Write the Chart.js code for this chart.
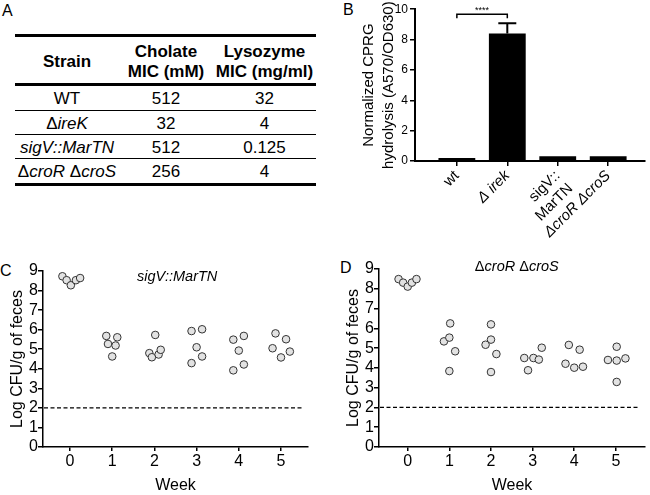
<!DOCTYPE html>
<html>
<head>
<meta charset="utf-8">
<script src="https://cdn.jsdelivr.net/npm/chart.js@4.4.1/dist/chart.umd.min.js"></script>
<style>
  body { margin: 0; background: #fff; }
  #page { position: relative; width: 650px; height: 495px; overflow: hidden; font-family: "Liberation Sans", Arial, sans-serif; color: #000; }
  canvas { position: absolute; }
  .panel { position: absolute; font-size: 16px; line-height: 16px; }
  #tableA { position: absolute; left: 15px; top: 34px; width: 301px; border-top: 3px solid #000; font-size: 17px; }
  #tableA .row { display: flex; box-sizing: content-box; border-bottom: 1px solid #000; }
  #tableA .row.head { height: 46px; border-bottom-width: 3px; font-weight: bold; align-items: center; padding-top: 0; }
  #tableA .row.last { border-bottom-width: 3px; }
  #tableA .cell { text-align: center; }
  #tableA .head .cell { line-height: 20px; padding-top: 3px; }
</style>
</head>
<body>
<div id="page">
  <div class="panel" style="left:2px;top:3px">A</div>
  <div class="panel" style="left:343px;top:2px">B</div>
  <div class="panel" style="left:0px;top:263px">C</div>
  <div class="panel" style="left:340px;top:260px">D</div>
  <div id="tableA"></div>
  <canvas id="chartB" width="320" height="250" style="left:330px;top:0px"></canvas>
  <canvas id="chartC" width="325" height="245" style="left:0px;top:250px"></canvas>
  <canvas id="chartD" width="325" height="245" style="left:325px;top:250px"></canvas>
</div>
<script>
// panel A
const tableStrains = ['WT', 'ΔireK', 'sigV::MarTN', 'ΔcroR ΔcroS'];
const cholateMIC = [512, 32, 512, 256];
const lysozymeMIC = [32, 4, 0.125, 4];

// panel B
const cprgStrains = ['wt', 'Δ irek', ['sigV::', 'MarTN'], 'ΔcroR ΔcroS'];
const cprgValues = [0.19, 8.4, 0.32, 0.32];
const cprgError = [0, 0.68, 0, 0];
const sigPair = [0, 1];
const sigLabel = '****';

// panels C and D
const weeks = [0, 1, 2, 3, 4, 5];
const detectionLimit = 2;
const sigvLogCfu = [
  [8.73, 8.53, 8.27, 8.53, 8.64],
  [5.68, 5.27, 5.61, 5.19, 4.63],
  [5.73, 4.80, 4.59, 4.73, 4.97],
  [5.93, 6.02, 5.10, 4.63, 4.29],
  [5.49, 5.68, 4.93, 4.22, 3.92],
  [5.81, 5.51, 5.05, 4.88, 4.58]
];
const sigvJitter = [
  [-0.18, -0.08, 0.02, 0.14, 0.24],
  [-0.14, -0.10, 0.12, 0.08, 0],
  [0.02, -0.12, -0.06, 0.10, 0.15],
  [-0.12, 0.13, 0, 0.13, -0.12],
  [-0.13, 0.12, 0, 0.12, -0.13],
  [-0.13, 0.12, -0.2, 0.21, 0]
];
const crosLogCfu = [
  [8.49, 8.31, 8.11, 8.31, 8.49],
  [6.25, 5.34, 5.53, 4.84, 3.84],
  [6.20, 5.43, 5.17, 4.70, 3.79],
  [4.50, 4.50, 4.42, 5.02, 3.88],
  [5.16, 4.92, 4.21, 4.01, 4.06],
  [4.40, 5.07, 4.37, 4.48, 3.29]
];
const crosJitter = [
  [-0.22, -0.11, 0, 0.1, 0.21],
  [0.02, -0.13, 0, 0.14, 0],
  [0, 0, -0.13, 0.13, 0],
  [-0.2, 0.02, 0.15, 0.22, -0.11],
  [-0.13, 0.13, -0.21, 0, 0.21],
  [-0.19, 0.02, 0.02, 0.23, 0.02]
];

const F = '"Liberation Sans", Arial, sans-serif';

// gene names italic, the delta stays upright
function italicName(name) {
  if (name === 'WT') return name;
  return name.replace(/([^Δ ]+)/g, '<i>$1</i>');
}

// ---- table (A)
const colWidths = [104, 94, 103];
const rowHeights = [24, 23, 23, 24];
let html = '<div class="row head">' +
  '<div class="cell" style="width:' + colWidths[0] + 'px">Strain</div>' +
  '<div class="cell" style="width:' + colWidths[1] + 'px">Cholate<br>MIC (mM)</div>' +
  '<div class="cell" style="width:' + colWidths[2] + 'px">Lysozyme<br>MIC (mg/ml)</div></div>';
tableStrains.forEach((s, i) => {
  const cls = i === tableStrains.length - 1 ? 'row last' : 'row';
  const st = 'height:' + rowHeights[i] + 'px;line-height:' + (rowHeights[i] + 2) + 'px';
  html += '<div class="' + cls + '" style="' + st + '">' +
    '<div class="cell" style="width:' + colWidths[0] + 'px">' + italicName(s) + '</div>' +
    '<div class="cell" style="width:' + colWidths[1] + 'px">' + cholateMIC[i] + '</div>' +
    '<div class="cell" style="width:' + colWidths[2] + 'px">' + lysozymeMIC[i] + '</div></div>';
});
document.getElementById('tableA').innerHTML = html;

// ---- bar chart (B)
const cprgMarks = {
  id: 'cprgMarks',
  afterDatasetsDraw(chart) {
    const { ctx, scales: { x, y } } = chart;
    ctx.save();
    ctx.strokeStyle = '#000';
    ctx.fillStyle = '#000';
    ctx.lineWidth = 2;
    let errTop = y.getPixelForValue(cprgValues[1]);
    cprgValues.forEach((v, i) => {
      if (!cprgError[i]) return;
      const px = x.getPixelForValue(i);
      const top = y.getPixelForValue(v + cprgError[i]);
      errTop = Math.min(errTop, top);
      ctx.beginPath();
      ctx.moveTo(px, y.getPixelForValue(v));
      ctx.lineTo(px, top);
      ctx.moveTo(px - 9, top);
      ctx.lineTo(px + 9, top);
      ctx.stroke();
    });
    const x0 = x.getPixelForValue(sigPair[0]);
    const x1 = x.getPixelForValue(sigPair[1]);
    const yb = errTop - 9;
    ctx.lineWidth = 1.5;
    ctx.beginPath();
    ctx.moveTo(x0, yb + 4);
    ctx.lineTo(x0, yb);
    ctx.lineTo(x1, yb);
    ctx.lineTo(x1, yb + 4);
    ctx.stroke();
    ctx.font = '9px ' + F;
    ctx.textAlign = 'center';
    ctx.textBaseline = 'bottom';
    ctx.fillText(sigLabel, (x0 + x1) / 2, yb + 1);
    ctx.restore();
  }
};

new Chart(document.getElementById('chartB'), {
  type: 'bar',
  data: {
    datasets: [{
      data: cprgValues.map((v, i) => ({ x: i, y: v })),
      backgroundColor: '#000',
      borderWidth: 0,
      barPercentage: 0.73,
      categoryPercentage: 1
    }]
  },
  options: {
    responsive: false,
    animation: false,
    layout: { padding: { top: 5, right: 5, left: 0, bottom: 0 } },
    plugins: { legend: { display: false }, tooltip: { enabled: false } },
    scales: {
      x: {
        type: 'linear',
        min: -0.83,
        max: 3.73,
        offset: false,
        afterBuildTicks: s => { s.ticks = cprgStrains.map((_, i) => ({ value: i })); },
        afterFit: s => { s.height = 89; },
        grid: { drawOnChartArea: false, tickLength: 5, color: '#000', lineWidth: 1.5, offset: false },
        border: { color: '#000', width: 2 },
        ticks: {
          autoSkip: false,
          minRotation: 45,
          maxRotation: 45,
          padding: 1,
          color: '#000',
          callback: v => cprgStrains[v],
          font: c => ({ family: F, size: 15, style: (c.index === 1 || c.index === 3) ? 'italic' : 'normal' })
        }
      },
      y: {
        min: 0,
        max: 10,
        afterFit: s => { s.width = 85; },
        grid: { drawOnChartArea: false, tickLength: 5, color: '#000', lineWidth: 1.5 },
        border: { color: '#000', width: 2 },
        ticks: { stepSize: 2, autoSkip: false, padding: 2, color: '#000', font: { family: F, size: 12 } },
        title: {
          display: true,
          text: ['Normalized CPRG', 'hydrolysis (A570/OD630)'],
          color: '#000',
          font: { family: F, size: 15, lineHeight: 1.33 },
          padding: { top: 29, bottom: 0 }
        }
      }
    }
  },
  plugins: [cprgMarks]
});

// ---- scatter charts (C, D)
function drawMixedTitle(ctx, text, cx, cy, size) {
  const parts = text.match(/Δ|[^Δ]+/g);
  const fontFor = p => (p === 'Δ' ? '' : 'italic ') + size + 'px ' + F;
  let total = 0;
  parts.forEach(p => { ctx.font = fontFor(p); total += ctx.measureText(p).width; });
  let x = cx - total / 2;
  ctx.textAlign = 'left';
  ctx.textBaseline = 'middle';
  parts.forEach(p => {
    ctx.font = fontFor(p);
    ctx.fillText(p, x, cy);
    x += ctx.measureText(p).width;
  });
}

function cfuChart(id, values, jitter, title, g) {
  const pts = [];
  values.forEach((row, w) => row.forEach((v, k) => pts.push({ x: weeks[w] + jitter[w][k], y: v })));
  const extras = {
    id: 'extras',
    beforeDatasetsDraw(chart) {
      const { ctx, chartArea, scales: { y } } = chart;
      const py = y.getPixelForValue(detectionLimit);
      ctx.save();
      ctx.strokeStyle = '#000';
      ctx.lineWidth = 1.3;
      ctx.setLineDash([4, 2.5]);
      ctx.beginPath();
      ctx.moveTo(chartArea.left + 1, py);
      ctx.lineTo(chartArea.right - 5, py);
      ctx.stroke();
      ctx.restore();
    },
    afterDraw(chart) {
      const { ctx, scales: { x }, chartArea } = chart;
      ctx.save();
      ctx.fillStyle = '#000';
      drawMixedTitle(ctx, title, x.getPixelForValue(g.titleX), chartArea.top + g.titleDy, 14.5);
      ctx.restore();
    }
  };
  return new Chart(document.getElementById(id), {
    type: 'scatter',
    data: {
      datasets: [{
        data: pts,
        pointRadius: 3.8,
        pointBackgroundColor: '#e2e2e2',
        pointBorderColor: '#333',
        pointBorderWidth: 1
      }]
    },
    options: {
      responsive: false,
      animation: false,
      layout: { padding: { top: g.top, right: g.right, left: 0, bottom: 0 } },
      plugins: { legend: { display: false }, tooltip: { enabled: false } },
      scales: {
        x: {
          type: 'linear',
          min: g.xmin,
          max: g.xmax,
          afterBuildTicks: s => { s.ticks = weeks.map(w => ({ value: w })); },
          afterFit: s => { s.height = g.xh; },
          grid: { drawOnChartArea: false, tickLength: 4, color: '#000', lineWidth: 1.5 },
          border: { color: '#000', width: 1.5 },
          ticks: { autoSkip: false, padding: 1, color: '#000', font: { family: F, size: 16 } },
          title: { display: true, text: 'Week', color: '#000', font: { family: F, size: 16 }, padding: 0 }
        },
        y: {
          min: 0,
          max: 9,
          afterFit: s => { s.width = g.yw; },
          grid: { drawOnChartArea: false, tickLength: 5, color: '#000', lineWidth: 1.5 },
          border: { color: '#000', width: 1.5 },
          ticks: { stepSize: 1, autoSkip: false, padding: 0, color: '#000', font: { family: F, size: 16 } },
          title: {
            display: true,
            text: 'Log CFU/g of feces',
            color: '#000',
            font: { family: F, size: 16 },
            padding: { top: g.tp, bottom: 0 }
          }
        }
      }
    },
    plugins: [extras]
  });
}

cfuChart('chartC', sigvLogCfu, sigvJitter, 'sigV::MarTN',
  { top: 21, right: 17, xh: 48, yw: 43, xmin: -0.64, xmax: 5.64, tp: 8.4, titleX: 2.54, titleDy: 6 });
cfuChart('chartD', crosLogCfu, crosJitter, 'ΔcroR ΔcroS',
  { top: 19, right: 2, xh: 48, yw: 54, xmin: -0.69, xmax: 5.7, tp: 19.4, titleX: 2.62, titleDy: -2 });
</script>
</body>
</html>
